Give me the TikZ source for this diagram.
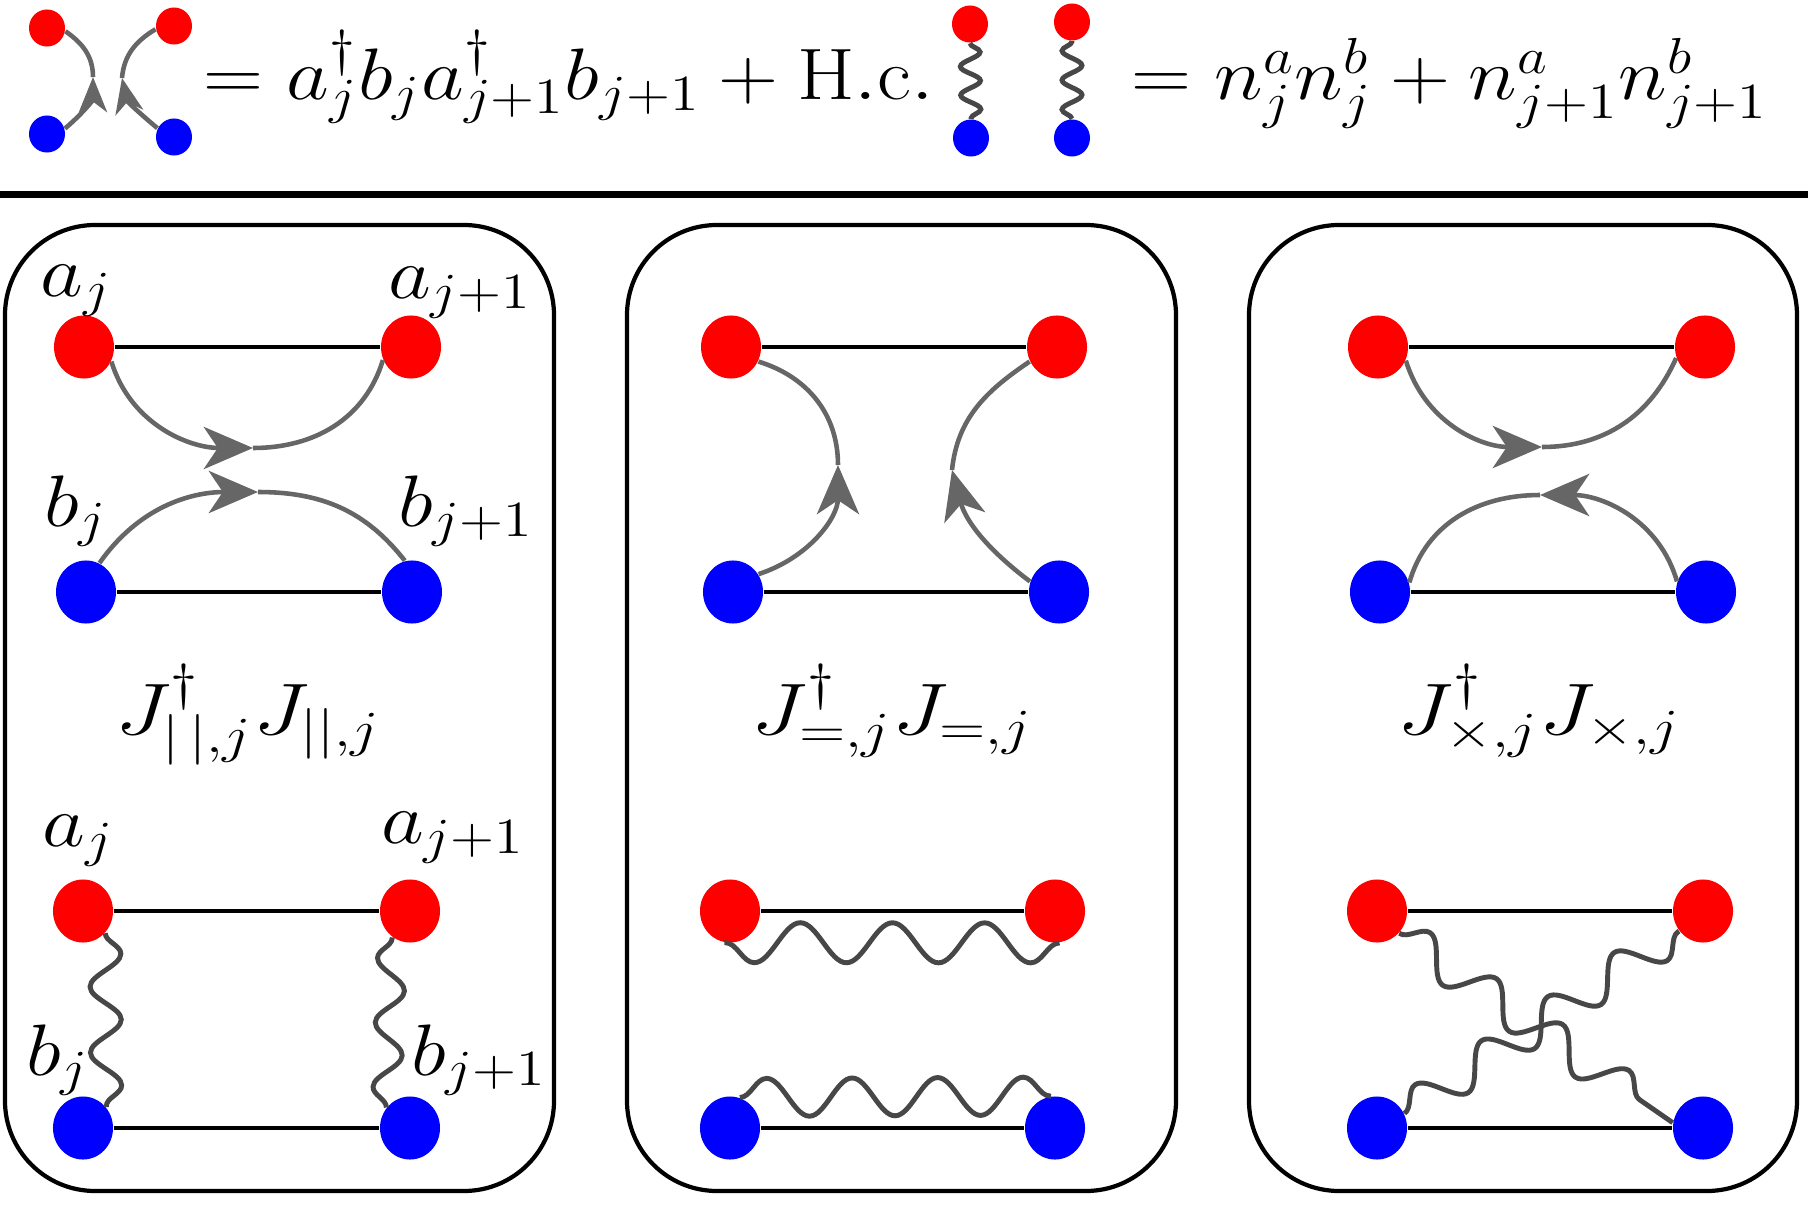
\documentclass[tikz,border=0pt]{standalone}
\usepackage{graphicx}
\usetikzlibrary{arrows.meta,shapes.geometric,decorations.pathmorphing}
\definecolor{hopgray}{HTML}{666666}
\definecolor{wavegray}{HTML}{474747}
\newcommand{\xwide}[2][1.14]{\scalebox{#1}[1]{#2}}
\tikzset{
  adot/.style={ellipse,fill=red,inner sep=0pt,minimum width=0.6cm,minimum height=0.63cm},
  bdot/.style={ellipse,fill=blue,inner sep=0pt,minimum width=0.6cm,minimum height=0.63cm},
  sadot/.style={adot,minimum width=0.36cm,minimum height=0.37cm},
  sbdot/.style={bdot,minimum width=0.36cm,minimum height=0.37cm},
  link/.style={line width=1.1pt},
  plain/.style={draw=hopgray,line width=1.3pt},
  hop/.style={plain,-{Stealth[length=14pt,width=12pt,inset=4pt]}},
  shop/.style={plain,-{Stealth[length=10pt,width=8pt,inset=3pt]}},
  wig/.style 2 args={draw=wavegray,line width=1.4pt,decorate,
    decoration={snake,amplitude=#1,segment length=#2}},
  panel/.style={line width=1.2pt,rounded corners=0.9cm},
  lab/.style={anchor=base,inner sep=0pt},
  oplab/.style={lab,font=\fontsize{22}{26}\selectfont}
}
\begin{document}
\begin{tikzpicture}[x=0.01cm,y=0.01cm,every node/.style={font=\huge}]
\useasboundingbox (0,0) rectangle (1808,-1206);
% legend: hopping term
\node[sadot] (r1) at (47,-28) {};
\node[sbdot] (b1) at (47,-134) {};
\node[sadot] (r2) at (174,-26) {};
\node[sbdot] (b2) at (174,-137) {};
\coordinate (t1) at (93,-77);
\coordinate (t2) at (122,-78);
\draw[shop] (b1.17) to[out=40,in=-90] (t1);
\draw[plain] (t1) to[out=90,in=-35] (r1.-10);
\draw[shop] (b2.152) to[out=140,in=-78] (t2);
\draw[plain] (t2) to[out=85,in=-149] (r2.-170);
\node[anchor=base west,inner sep=0pt] (hopeq) at (203,-100) {\xwide{$= a^\dagger_j b_j a^\dagger_{j+1} b_{j+1} + \mathrm{H.c.}$}};
% legend: density term
\node[sadot] (r3) at (970,-24) {};
\node[sbdot] (b3) at (971,-138) {};
\node[sadot] (r4) at (1072,-22) {};
\node[sbdot] (b4) at (1072,-138) {};
\draw[wig={0.1cm}{0.286cm}] (r3.-90) -- (b3.90);
\draw[wig={0.1cm}{0.294cm}] (b4.90) -- (r4.-90);
\node[anchor=base west,inner sep=0pt] (deneq) at (1131,-100) {\xwide{$= n^a_j n^b_j + n^a_{j+1} n^b_{j+1}$}};
\draw[line width=2pt] (0,-194.5) -- (1808,-194.5);
% panels
\draw[panel] (5,-225) rectangle (554,-1191);
\draw[panel] (627,-225) rectangle (1176,-1191);
\draw[panel] (1249,-225) rectangle (1797,-1191);
% panel 1, hopping
\node[adot] (h1al) at (84,-347) {};
\node[adot] (h1ar) at (411,-347) {};
\node[bdot] (h1bl) at (86,-592) {};
\node[bdot] (h1br) at (412,-592) {};
\node[lab] (h1la) at (76,-296) {\xwide{$a_j$}};
\node[lab] (h1lA) at (460,-298) {\xwide{$a_{j+1}$}};
\node[lab] (h1lb) at (76,-526) {\xwide{$b_j$}};
\node[lab] (h1lB) at (466,-526) {\xwide{$b_{j+1}$}};
\draw[link] (h1al) -- (h1ar);
\draw[link] (h1bl) -- (h1br);
\coordinate (h1m) at (253,-448);
\coordinate (h1n) at (258,-492);
\draw[hop] (h1al.-28) to[out=-73,in=180] (h1m);
\draw[plain] (h1m) to[out=0,in=-107] (h1ar.-155);
\draw[hop] (h1bl.65) to[out=55,in=180] (h1n);
\draw[plain] (h1n) to[out=0,in=128] (h1br.103);
% panel 2, hopping
\node[adot] (h2al) at (731,-347) {};
\node[adot] (h2ar) at (1057,-347) {};
\node[bdot] (h2bl) at (733,-592) {};
\node[bdot] (h2br) at (1059,-592) {};
\draw[link] (h2al) -- (h2ar);
\draw[link] (h2bl) -- (h2br);
\coordinate (h2m) at (838,-465);
\coordinate (h2n) at (952,-470);
\draw[hop] (h2bl.35) to[out=18,in=-90] (h2m);
\draw[plain] (h2m) to[out=90,in=-17] (h2al.-28);
\draw[hop] (h2br.160) to[out=143,in=-75] (h2n);
\draw[plain] (h2n) to[out=84,in=-146] (h2ar.-152);
% panel 3, hopping
\node[adot] (h3al) at (1378,-347) {};
\node[adot] (h3ar) at (1705,-347) {};
\node[bdot] (h3bl) at (1380,-592) {};
\node[bdot] (h3br) at (1706,-592) {};
\draw[link] (h3al) -- (h3ar);
\draw[link] (h3bl) -- (h3br);
\coordinate (h3m) at (1542,-447);
\coordinate (h3n) at (1540,-495);
\draw[hop] (h3al.-26) to[out=-73,in=180] (h3m);
\draw[plain] (h3m) to[out=0,in=-114] (h3ar.-159);
\draw[hop] (h3br.160) to[out=106,in=0] (h3n);
\draw[plain] (h3n) to[out=180,in=74] (h3bl.18);
% operator labels
\node[oplab] (j1) at (248,-734) {\xwide[1.2]{$J^\dagger_{|\,|,j} J_{||,j}$}};
\node[oplab] (j2) at (892,-734) {\xwide[1.2]{$J^\dagger_{=,j} J_{=,j}$}};
\node[oplab] (j3) at (1539,-734) {\xwide[1.2]{$J^\dagger_{\times,j} J_{\times,j}$}};
% panel 1, density
\node[adot] (n1al) at (83,-911) {};
\node[adot] (n1ar) at (410,-911) {};
\node[bdot] (n1bl) at (83,-1128) {};
\node[bdot] (n1br) at (410,-1128) {};
\node[lab] (n1la) at (78,-846) {\xwide{$a_j$}};
\node[lab] (n1lA) at (453,-843) {\xwide{$a_{j+1}$}};
\node[lab] (n1lb) at (58,-1075) {\xwide{$b_j$}};
\node[lab] (n1lB) at (479,-1075) {\xwide{$b_{j+1}$}};
\draw[link] (n1al) -- (n1ar);
\draw[link] (n1bl) -- (n1br);
\draw[wig={0.155cm}{0.658cm}] (n1al.-45) -- (n1bl.42);
\draw[wig={0.14cm}{0.645cm}] (n1br.139) -- (n1ar.-124);
% panel 2, density
\node[adot] (n2al) at (730,-911) {};
\node[adot] (n2ar) at (1055,-911) {};
\node[bdot] (n2bl) at (730,-1128) {};
\node[bdot] (n2br) at (1055,-1128) {};
\draw[link] (n2al) -- (n2ar);
\draw[link] (n2bl) -- (n2br);
\draw[wig={0.2cm}{0.921cm}] (n2ar.-82) -- (n2al.-100);
\draw[wig={0.19cm}{0.855cm}] (n2bl.72) -- (n2br.97);
% panel 3, density
\node[adot] (n3al) at (1377,-911) {};
\node[adot] (n3ar) at (1703,-911) {};
\node[bdot] (n3bl) at (1377,-1128) {};
\node[bdot] (n3br) at (1703,-1128) {};
\draw[link] (n3al) -- (n3ar);
\draw[link] (n3bl) -- (n3br);
\draw[wig={0.18cm}{0.806cm}] (n3al.-45) -- (n3br.170);
\draw[wig={0.18cm}{0.796cm}] (n3bl.28) -- (n3ar.-140);
\end{tikzpicture}
\end{document}
